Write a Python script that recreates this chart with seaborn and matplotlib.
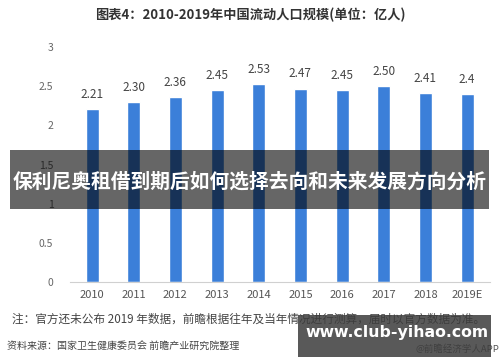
import pandas as pd
import numpy as np
import matplotlib
matplotlib.use("Agg")
import matplotlib.pyplot as plt
import seaborn as sns
from matplotlib.patches import Rectangle

# 数据
years = ["2010", "2011", "2012", "2013", "2014", "2015", "2016", "2017", "2018", "2019E"]
values = [2.21, 2.30, 2.36, 2.45, 2.53, 2.47, 2.45, 2.50, 2.41, 2.40]
value_labels = ["2.21", "2.30", "2.36", "2.45", "2.53", "2.47", "2.45", "2.50", "2.41", "2.4"]
yticks = [0, 0.5, 1, 1.5, 2, 2.5, 3]
ytick_labels = ["0", "0.5", "1", "1.5", "2", "2.5", "3"]

df = pd.DataFrame({"year": years, "value": values})

sns.set_style("white")
plt.rcParams["font.family"] = ["Noto Sans CJK SC", "DejaVu Sans"]

fig = plt.figure(figsize=(5, 3.62), dpi=100)
ax = fig.add_axes([0.14, 0.221, 0.84, 0.649])

sns.barplot(data=df, x="year", y="value", color="#3b7fd9", width=0.31,
            saturation=1, ax=ax)

for i, lab in enumerate(value_labels):
    ax.annotate(lab, xy=(i, values[i]), xytext=(0, 6), textcoords="offset points",
                ha="center", va="bottom", fontsize=8.5, color="#444444")

ax.set_ylim(0, 3)
ax.set_xlim(-0.53, 9.55)
ax.set_yticks(yticks)
ax.set_yticklabels(ytick_labels)
ax.tick_params(axis="y", length=0, labelsize=7.5, labelcolor="#666666", pad=12)
ax.tick_params(axis="x", length=0, labelsize=8, labelcolor="#555555", pad=6)
ax.set_xlabel("")
ax.set_ylabel("")
sns.despine(ax=ax, left=True)
ax.spines["bottom"].set_color("#d0d0d0")

# 标题
fig.text(0.5, 0.958, "图表4：2010-2019年中国流动人口规模(单位：亿人)", ha="center", va="center",
         fontsize=9.5, fontweight="bold", color="#333333")

# 注释与来源
fig.text(0.024, 0.117, "注：官方还未公布 2019 年数据，前瞻根据往年及当年情况进行测算，届时以官方数据为准。",
         ha="left", va="center", fontsize=8.4, color="#444444")
fig.text(0.014, 0.044, "资料来源：国家卫生健康委员会 前瞻产业研究院整理",
         ha="left", va="center", fontsize=7.2, color="#444444")
fig.text(0.998, 1 - 349 / 362, "@前瞻经济学人APP", ha="right", va="center", fontsize=6.8, color="#555555")

# 横幅
fig.patches.append(Rectangle((0.02, 1 - 209 / 362), 0.958, 59 / 362, transform=fig.transFigure,
                             facecolor="black", alpha=0.6, edgecolor="none", zorder=5))
fig.text(0.5, 1 - 182 / 362, "保利尼奥租借到期后如何选择去向和未来发展方向分析", ha="center", va="center",
         fontsize=14.2, fontweight="bold", color="white", zorder=6)

# 水印框
fig.patches.append(Rectangle((0.596, 1 - 357 / 362), 0.386, 42 / 362, transform=fig.transFigure,
                             facecolor="#3c3c3c", alpha=0.85, edgecolor="none", zorder=5))
fig.text(0.793, 1 - 333 / 362, "www.club-yihao.com", ha="center", va="center",
         fontsize=11.3, fontweight="bold", color="white", zorder=6,
         family=["DejaVu Sans"])

plt.savefig("out.png", dpi=100)
